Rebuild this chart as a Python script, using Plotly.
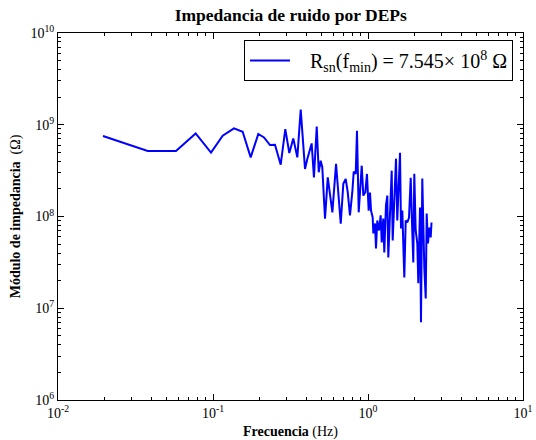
import plotly.graph_objects as go

# Frequency (Hz) and impedance modulus (Ohm)
freq = [0.0195, 0.0379, 0.0577, 0.0773, 0.0971, 0.1155, 0.1366, 0.1554, 0.175, 0.196,
        0.2133, 0.2332, 0.2512, 0.2734, 0.2927, 0.3107, 0.3296, 0.350, 0.368, 0.3923,
        0.406, 0.433, 0.448, 0.467, 0.481, 0.495, 0.507, 0.528, 0.550, 0.569,
        0.589, 0.622, 0.644, 0.667, 0.693, 0.718, 0.740, 0.765, 0.792, 0.809,
        0.833, 0.849, 0.871, 0.911, 0.933, 0.961, 0.985, 1.010, 1.030, 1.046,
        1.072, 1.082, 1.110, 1.126, 1.148, 1.178, 1.207, 1.226, 1.255, 1.274,
        1.306, 1.332, 1.352, 1.372, 1.407, 1.422, 1.443, 1.471, 1.500, 1.516,
        1.545, 1.568, 1.609, 1.633, 1.665, 1.689, 1.715, 1.751, 1.793, 1.839,
        1.886, 1.923, 1.960, 1.989, 2.031, 2.080, 2.111, 2.165, 2.197, 2.240,
        2.275, 2.308, 2.357, 2.391, 2.438, 2.486, 2.538, 2.569]
impedance = [7.545e8, 5.18e8, 5.18e8, 8.04e8, 4.97e8, 7.59e8, 9.12e8, 8.39e8, 4.41e8, 7.93e8,
             7.28e8, 6.01e8, 6.06e8, 3.67e8, 8.98e8, 4.92e8, 7.10e8, 4.41e8, 1.46e9, 3.30e8,
             4.24e8, 6.26e8, 2.67e8, 9.58e8, 3.03e8, 4.06e8, 3.44e8, 9.44e7, 2.67e8, 1.69e8,
             1.11e8, 3.74e8, 1.84e8, 8.33e7, 2.27e8, 2.57e8, 1.84e8, 1.03e8, 1.84e8, 3.08e8,
             2.91e8, 8.61e8, 1.11e8, 3.58e8, 1.69e8, 1.84e8, 2.91e8, 1.16e8, 1.82e8, 1.16e8,
             9.75e7, 6.54e7, 8.39e7, 4.49e7, 9.05e7, 7.04e7, 1.03e8, 5.22e7, 9.51e7, 4.06e7,
             1.32e8, 1.69e8, 3.58e7, 7.04e7, 1.82e8, 3.16e8, 5.48e7, 1.16e8, 2.07e8, 4.27e8,
             9.05e7, 1.78e8, 4.96e8, 7.41e7, 1.16e8, 5.09e7, 2.17e7, 9.05e7, 8.61e7, 9.75e7,
             2.65e8, 8.39e7, 3.16e7, 2.93e8, 7.04e7, 5.09e7, 1.87e7, 1.25e8, 7.04e6, 2.59e8,
             5.48e7, 2.79e7, 1.28e7, 1.08e8, 5.09e7, 7.59e7, 5.91e7, 8.61e7]

x_tickvals = [0.01, 0.1, 1, 10]
x_ticktext = ["10<sup>-2</sup>", "10<sup>-1</sup>", "10<sup>0</sup>", "10<sup>1</sup>"]
y_tickvals = [1e6, 1e7, 1e8, 1e9, 1e10]
y_ticktext = ["10<sup>6</sup>", "10<sup>7</sup>", "10<sup>8</sup>", "10<sup>9</sup>", "10<sup>10</sup>"]

legend_name = "&nbsp;&nbsp;&nbsp;R<sub>sn</sub>(f<sub>min</sub>) = 7.545× 10<sup>8</sup> Ω"

SERIF = "Liberation Serif, Times New Roman, serif"

fig = go.Figure()
fig.add_trace(go.Scatter(x=freq, y=impedance, mode="lines", name=legend_name,
                         line=dict(color="#0000ff", width=2), showlegend=True))

axis_common = dict(
    type="log", showline=True, linecolor="black", linewidth=1, mirror="allticks",
    ticks="inside", ticklen=6, tickcolor="black", tickwidth=1,
    showgrid=False, zeroline=False, automargin=False,
    minor=dict(ticks="inside", ticklen=3, tickcolor="black", tickwidth=1, showgrid=False, dtick="D1"),
    tickfont=dict(family=SERIF, size=14, color="black"),
)

fig.update_xaxes(**axis_common, range=[-2, 1], tickvals=x_tickvals, ticktext=x_ticktext,
                 title=dict(text="<b>Frecuencia</b> (Hz)", font=dict(family=SERIF, size=14, color="black"),
                            standoff=6))
fig.update_yaxes(**axis_common, range=[6, 10], tickvals=y_tickvals, ticktext=y_ticktext,
                 title=dict(text="<b>Módulo de impedancia</b>  (Ω)", font=dict(family=SERIF, size=14, color="black"),
                            standoff=6))

fig.update_layout(
    width=536, height=440,
    margin=dict(l=58, r=13, t=33, b=40),
    paper_bgcolor="white", plot_bgcolor="white",
    title=dict(text="<b>Impedancia de ruido por DEPs</b>", x=0.5425, xanchor="center",
               y=0.966, yanchor="middle", font=dict(family=SERIF, size=17.5, color="black")),
    legend=dict(x=0.9785, y=0.981, xanchor="right", yanchor="top",
                bgcolor="white", bordercolor="black", borderwidth=1,
                font=dict(family=SERIF, size=20, color="black"),
                itemwidth=40),
    showlegend=True,
)

fig.write_html("out.html")
